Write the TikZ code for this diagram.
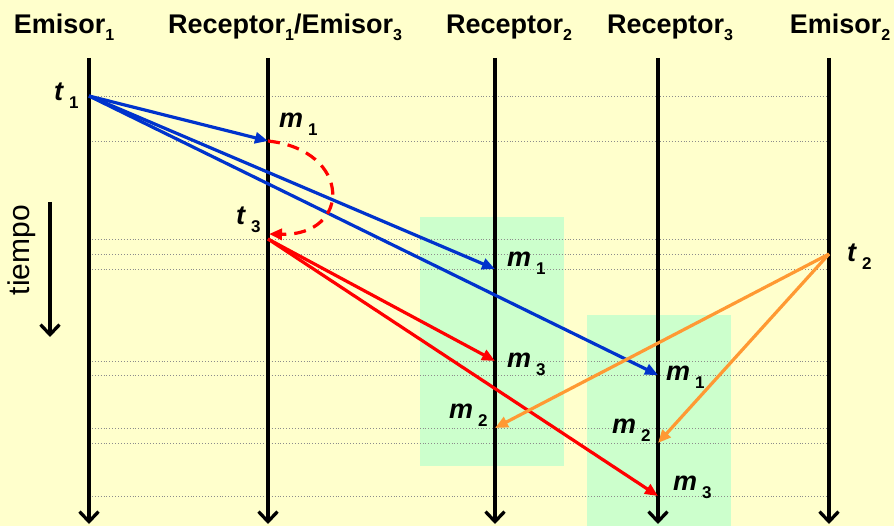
\documentclass[tikz,border=0pt]{standalone}
\usepackage{fontspec}
\setmainfont{Liberation Sans}
\usetikzlibrary{arrows.meta}
\definecolor{bg}{HTML}{FFFFCC}
\definecolor{zone}{HTML}{CCFFCC}
\definecolor{mblue}{HTML}{0033CC}
\definecolor{mred}{HTML}{FF0000}
\definecolor{morange}{HTML}{FF9933}
\definecolor{grid}{HTML}{8C8C8C}
\newcommand{\hsub}[1]{\raisebox{-7pt}{\fontsize{16}{16}\selectfont #1}}
\newcommand{\ev}[2]{\textbf{\textit{#1}}\hspace{5pt}\raisebox{-8pt}{\fontsize{17}{17}\selectfont\bfseries #2}}
\tikzset{
  lifeline/.style={line width=3.3pt,-{Straight Barb[length=10pt,width=19pt,line width=3.3pt]}},
  gridline/.style={grid,line width=0.9pt,dotted},
  msg/.style={line width=3.2pt,-{Triangle[length=13pt,width=11pt]}},
  header/.style={anchor=base,inner sep=0pt,font=\fontsize{27}{28}\selectfont\bfseries},
  evlabel/.style={anchor=base west,inner sep=0pt,font=\fontsize{27}{28}\selectfont},
}
\begin{document}
\begin{tikzpicture}[x=1pt,y=-1pt]
\fill[bg] (0,0) rectangle (894,526);
\useasboundingbox (0,0) rectangle (894,526);
% zones
\fill[zone] (420,217) rectangle (564,466);
\fill[zone] (587,315) rectangle (731,526);
% time grid
\foreach \y in {96,141,239,254,269,361,375,428,443,496}
  \draw[gridline] (89,\y) -- (829,\y);
% lifelines
\foreach \n/\x in {e1/89,r1/268,r2/495,r3/658,e2/829}{
  \coordinate (\n top) at (\x,58);
  \coordinate (\n bot) at (\x,524);
  \draw[lifeline] (\n top) -- (\n bot);
}
% headers
\node[header] (h1) at (64,34) {Emisor\hsub{1}};
\node[header] (h2) at (285,34) {Receptor\hsub{1}/Emisor\hsub{3}};
\node[header] (h3) at (509,34) {Receptor\hsub{2}};
\node[header] (h4) at (670,34) {Receptor\hsub{3}};
\node[header] (h5) at (840,34) {Emisor\hsub{2}};
% time arrow
\coordinate (ttop) at (50,202);
\coordinate (tbot) at (50,337);
\draw[lifeline] (ttop) -- (tbot);
\node[rotate=90,inner sep=0pt,font=\fontsize{30}{31}\selectfont] (tiempo) at (22,250) {tiempo};
% events
\coordinate (t1) at (89,96);
\coordinate (m1a) at (268,141);
\coordinate (m1b) at (495,269);
\coordinate (m1c) at (658,375);
\coordinate (t3in) at (269,234);
\coordinate (t3) at (268,239);
\coordinate (m3a) at (495,361);
\coordinate (m3b) at (658,496);
\coordinate (t2) at (829,254);
\coordinate (m2a) at (495,428);
\coordinate (m2b) at (658,443);
% messages
\draw[msg,mblue] (t1) -- (m1a);
\draw[msg,mblue] (t1) -- (m1b);
\draw[msg,mblue] (t1) -- (m1c);
\draw[msg,mred,dashed,dash pattern=on 12pt off 8pt] (m1a) .. controls (352,150) and (352,236) .. (t3in);
\draw[msg,mred] (t3) -- (m3a);
\draw[msg,mred] (t3) -- (m3b);
\draw[msg,morange] (t2) -- (m2a);
\draw[msg,morange] (t2) -- (m2b);
% labels
\node[evlabel] (lt1) at (54,101) {\ev{t}{1}};
\node[evlabel] (lm1a) at (279,128) {\ev{m}{1}};
\node[evlabel] (lt3) at (236,225) {\ev{t}{3}};
\node[evlabel] (lm1b) at (507,267) {\ev{m}{1}};
\node[evlabel] (lm3a) at (507,367) {\ev{m}{3}};
\node[evlabel] (lm1c) at (666,381) {\ev{m}{1}};
\node[evlabel] (lm2a) at (449,418) {\ev{m}{2}};
\node[evlabel] (lm2b) at (612,433) {\ev{m}{2}};
\node[evlabel] (lm3b) at (673,490) {\ev{m}{3}};
\node[evlabel] (lt2) at (847,262) {\ev{t}{2}};
\end{tikzpicture}
\end{document}
